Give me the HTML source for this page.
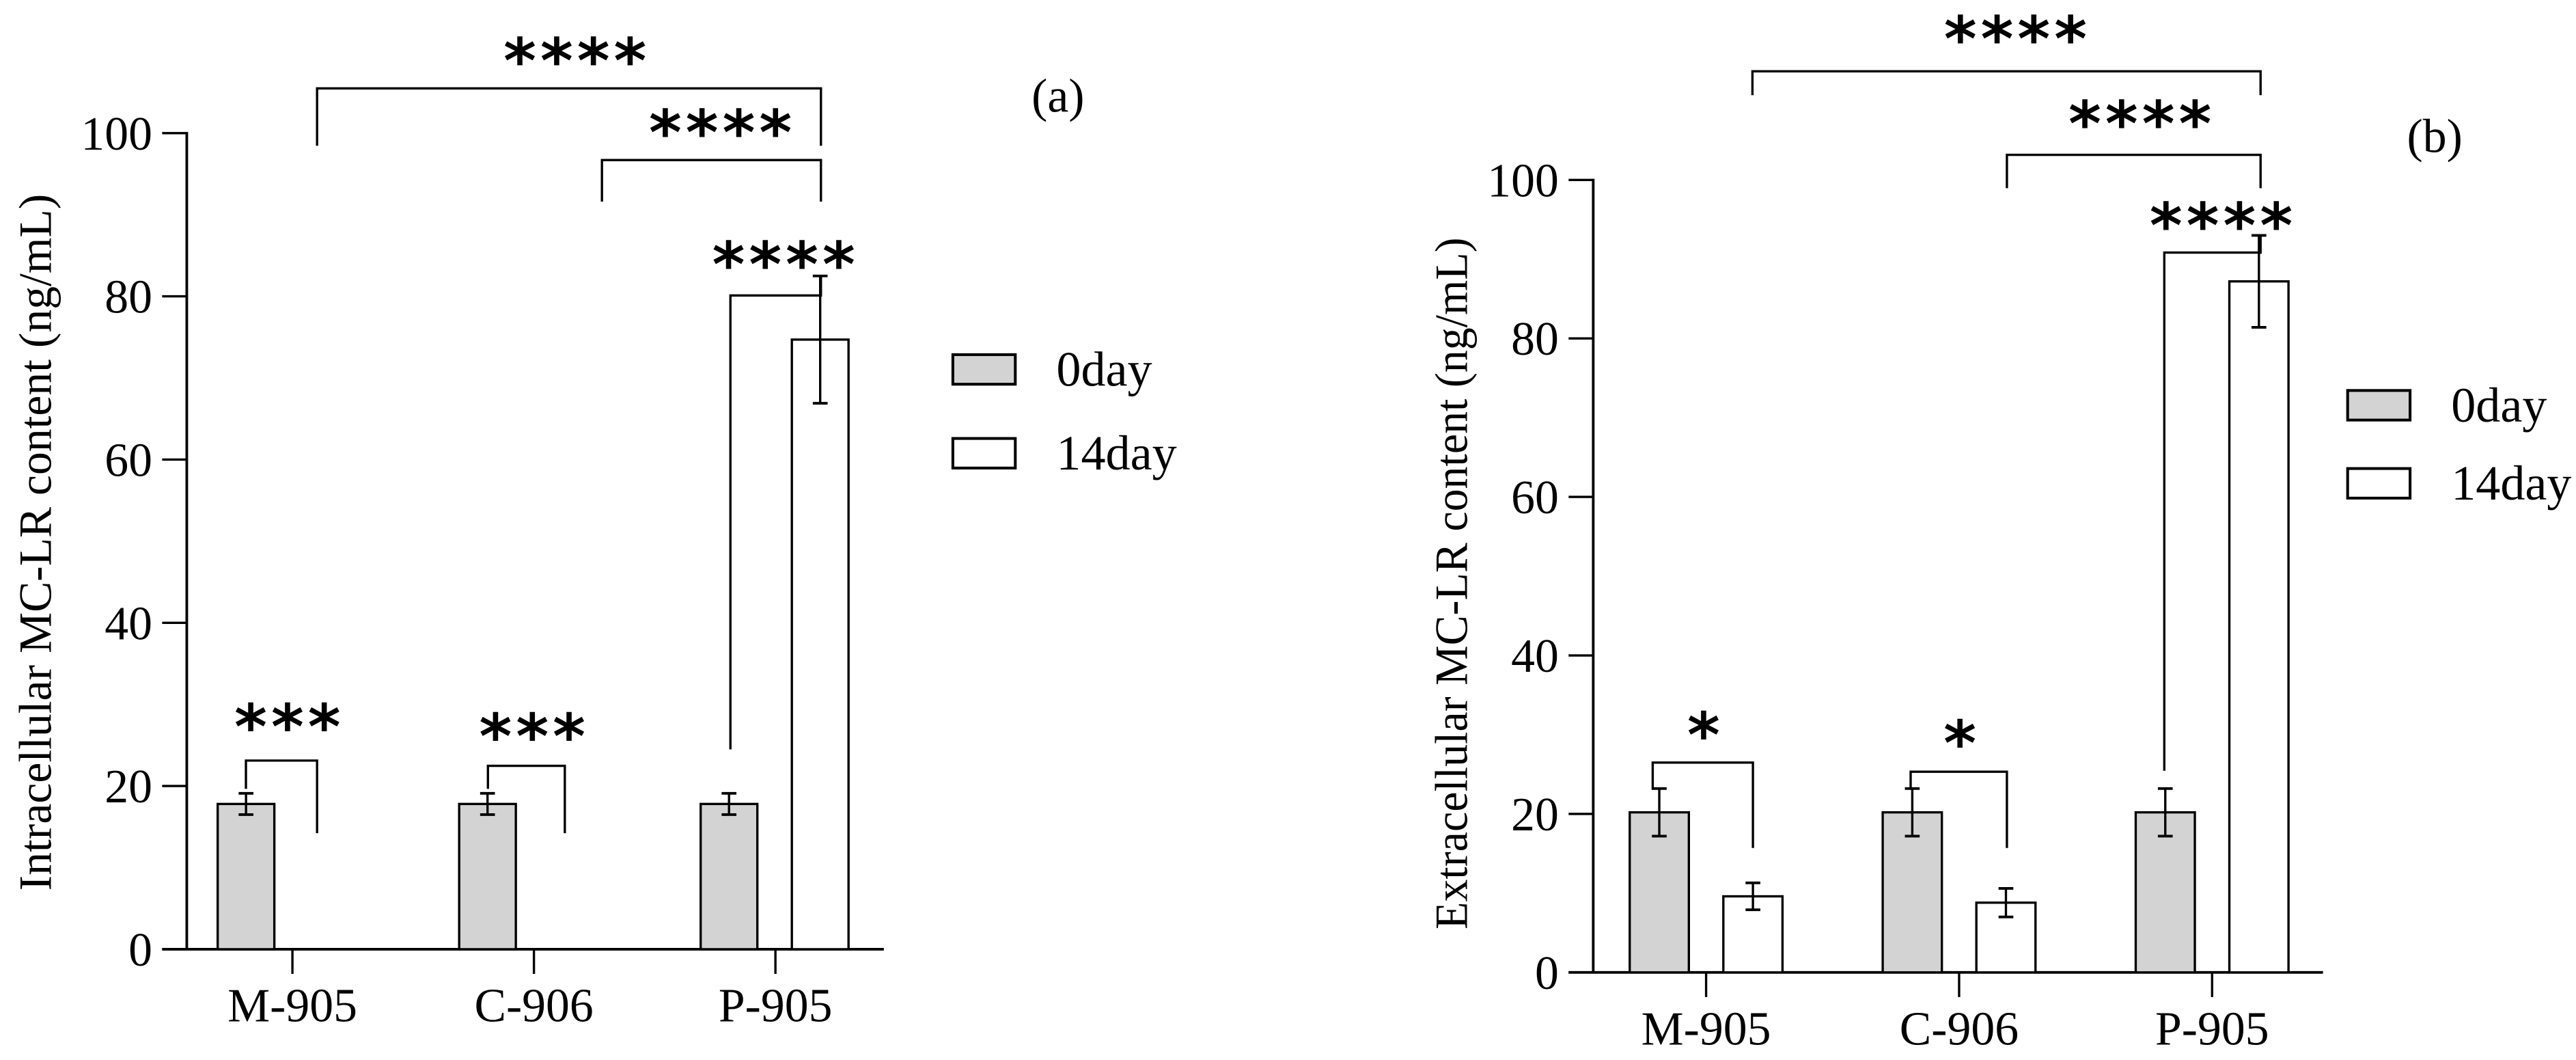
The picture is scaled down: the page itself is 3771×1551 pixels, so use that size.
<!DOCTYPE html>
<html><head><meta charset="utf-8"><style>
html,body{margin:0;padding:0;background:#fff;}
svg{display:block;}
text{font-family:"Liberation Serif",serif;fill:#000;}
.star{font-family:"DejaVu Sans","Liberation Sans",sans-serif;font-weight:bold;letter-spacing:2.5px;}
</style></head><body>
<svg id="fig" width="3771" height="1551" viewBox="0 0 1568 645" preserveAspectRatio="none" xmlns="http://www.w3.org/2000/svg"></svg>
<script>
// ---- data ----
const categories = ["M-905","C-906","P-905"];
const seriesNames = ["0day","14day"];
const aDay0 = [17.8, 17.8, 17.8];
const aDay0Err = [1.3, 1.3, 1.3];
const aDay14 = [0, 0, 74.7];
const aDay14Err = [0, 0, 7.8];
const bDay0 = [20.2, 20.2, 20.2];
const bDay0Err = [3.0, 3.0, 3.0];
const bDay14 = [9.6, 8.8, 87.2];
const bDay14Err = [1.7, 1.8, 5.8];
const yTicks = [0, 20, 40, 60, 80, 100];
const aTitle = "Intracellular MC-LR content (ng/mL)";
const bTitle = "Extracellular MC-LR content (ng/mL)";

const NS = "http://www.w3.org/2000/svg";
const svg = document.getElementById('fig');
function mk(tag, attrs, parent){const e=document.createElementNS(NS,tag);for(const k in attrs)e.setAttribute(k,attrs[k]);(parent||svg).appendChild(e);return e;}
function line(x1,y1,x2,y2,sw,p){return mk('line',{x1,y1,x2,y2,stroke:'#000','stroke-width':sw||1.4},p);}

function panel(cfg){
  const g = mk('g',{});
  
  
  const y = v => cfg.y0 - (v/100)*(cfg.y0-cfg.y100);
  const cx = i => cfg.c0 + i*cfg.step;
  // y axis
  const ya = line(cfg.ax, cfg.y100-0.7, cfg.ax, cfg.y0, 1.6, g);
  
  
  const xa = line(cfg.ax-15, cfg.y0, cfg.xEnd, cfg.y0, 1.6, g);
  
  
  yTicks.forEach(t=>{
    const tk = line(cfg.ax-15, y(t), cfg.ax, y(t), 1.4, g);
    
    
    const tl = mk('text',{x:cfg.ax-21, y:y(t)+10, 'font-size':29, 'text-anchor':'end'}, g);
    
    
    tl.textContent = t;
  });
  categories.forEach((c,i)=>{
    const tk = line(cx(i), cfg.y0, cx(i), cfg.y0+15, 1.4, g);
    
    
    const tl = mk('text',{x:cx(i), y:cfg.y0+44, 'font-size':29, 'text-anchor':'middle'}, g);
    
    
    tl.textContent = c;
  });
  const series = [[cfg.d0,cfg.e0,'#d3d3d3',cfg.o0],[cfg.d14,cfg.e14,'#ffffff',cfg.o14]];
  series.forEach((s,si)=>{
    s[0].forEach((v,i)=>{
      const x1 = cx(i)+s[3], w = cfg.bw;
      if (v > 0) {
        const r = mk('rect',{x:x1, y:y(v), width:w, height:cfg.y0-y(v), fill:s[2], stroke:'#000','stroke-width':1.4}, g);
        
        
      }
      const e = s[1][i];
      if (e > 0) {
        const m = x1 + w/2;
        const eg = mk('g',{}, g);
        
        
        line(m, y(v+e), m, y(v-e), 1.4, eg);
        line(m-4.5, y(v+e), m+4.5, y(v+e), 1.6, eg);
        line(m-4.5, y(v-e), m+4.5, y(v-e), 1.6, eg);
      }
    });
  });
  // y title
  const yt = mk('text',{x:0,y:0,'font-size':28,'text-anchor':'middle',textLength:cfg.titleLen,lengthAdjust:'spacingAndGlyphs',transform:`translate(${cfg.titleX},${cfg.titleY}) rotate(-90)`}, g);
  
  
  yt.textContent = cfg.title;
  // brackets
  cfg.brackets.forEach(b=>{
    const bg = mk('g',{}, g);
    
    
    mk('polyline',{points:`${b[0]},${b[1]} ${b[0]},${b[2]} ${b[3]},${b[2]} ${b[3]},${b[4]}`, fill:'none', stroke:'#000','stroke-width':1.4}, bg);
    const st = mk('text',{x:b[5]+1.25, y:b[6]+20.5, 'font-size':38, 'text-anchor':'middle', class:'star'}, bg);
    
    
    st.textContent = b[7];
  });
  // panel label
  const pl = mk('text',{x:cfg.lab[0], y:cfg.lab[1]+10, 'font-size':29, 'text-anchor':'middle'}, g);
  
  
  pl.textContent = cfg.lab[2];
  // legend
  seriesNames.forEach((n,i)=>{
    const lg = mk('g',{}, g);
    
    
    const yy = cfg.leg[1] + i*cfg.leg[2];
    mk('rect',{x:cfg.leg[0], y:yy, width:38, height:18, fill:i===0?'#d3d3d3':'#fff', stroke:'#000','stroke-width':1.7}, lg);
    const t = mk('text',{x:cfg.leg[0]+63, y:yy+19, 'font-size':30}, lg);
    t.textContent = n;
  });
}

panel({name:'panel-a', ax:113.7, y0:577.6, y100:81, xEnd:538, c0:178, step:147, bw:34.5, o0:-45.5, o14:10,
  d0:aDay0, e0:aDay0Err, d14:aDay14, e14:aDay14Err, title:aTitle, titleX:31, titleY:330, titleLen:424,
  brackets:[
    [193,88.7,53.8,499.7,88.7,350,29.8,'****'],
    [366.4,122.7,97.4,499.7,122.7,438.5,73.5,'****'],
    [444.6,456,179.8,499.7,168,477,153.7,'****'],
    [149.7,480,462.8,193,507,175,435,'***'],
    [297,480,466,343.8,507,324,441,'***']],
  lab:[644,57.9,'(a)'], leg:[580,215.8,51]});

panel({name:'panel-b', ax:969.8, y0:591.7, y100:109.5, xEnd:1414, c0:1038.5, step:154, bw:36, o0:-46.5, o14:10.5,
  d0:bDay0, e0:bDay0Err, d14:bDay14, e14:bDay14Err, title:bTitle, titleX:893, titleY:355, titleLen:421,
  brackets:[
    [1066.7,57.9,43.4,1376,57.9,1226.8,16.5,'****'],
    [1221.6,114.5,94.2,1376,114.5,1302.6,68,'****'],
    [1317.4,469,153.7,1376,142.6,1352,130,'****'],
    [1006,480.6,464,1067,516,1037,440,'*'],
    [1163,480.6,469.6,1221.6,516,1193,445,'*']],
  lab:[1482,82.6,'(b)'], leg:[1429,237.6,47.5]});
</script>
</body></html>
